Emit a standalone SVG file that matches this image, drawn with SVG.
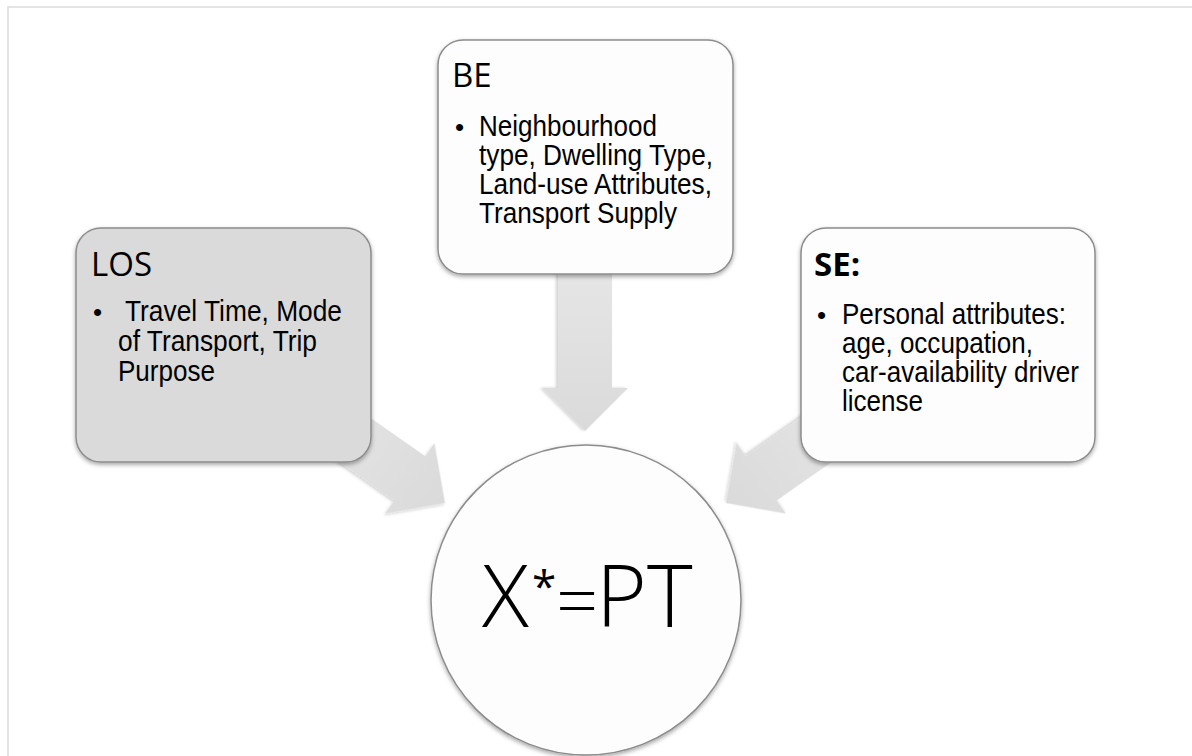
<svg xmlns="http://www.w3.org/2000/svg" width="1192" height="756" viewBox="0 0 1192 756">
<defs>
  <linearGradient id="arrowGrad" x1="0" y1="0" x2="1" y2="0">
    <stop offset="0" stop-color="#e6e6e6"/>
    <stop offset="1" stop-color="#dadada"/>
  </linearGradient>
  <filter id="shadow" x="-20%" y="-20%" width="140%" height="140%">
    <feDropShadow dx="0" dy="2" stdDeviation="2" flood-color="#000" flood-opacity="0.35"/>
  </filter>
  <filter id="ashadow" x="-20%" y="-20%" width="140%" height="140%">
    <feDropShadow dx="0" dy="2" stdDeviation="1.5" flood-color="#000" flood-opacity="0.18"/>
  </filter>
</defs>
<style>
  .frame { fill: none; stroke: #dcdcdc; stroke-width: 1.5; }
  .box { stroke: #8c8c8c; stroke-width: 1.5; filter: url(#shadow); }
  .head { font-family: "Open Sans", "Liberation Sans", sans-serif; font-size: 33px; fill: #000; }
  .bold { font-weight: 700; }
  .body { font-family: "Liberation Sans", Arial, sans-serif; font-size: 29px; fill: #000; }
  .bullet { font-family: "Liberation Sans", Arial, sans-serif; font-size: 26px; fill: #000; }
  .arrow { fill: url(#arrowGrad); filter: url(#ashadow); }
  .big { font-family: "Open Sans", "Liberation Sans", sans-serif; font-weight: 300; font-size: 87px; fill: #000; }
</style>
<rect x="0" y="0" width="1192" height="756" fill="#ffffff"/>
<path class="frame" d="M8 756 V7 H1192"/>

<g id="connectors">
  <polygon class="arrow" transform="translate(445,503) rotate(35)" points="-170,-27 -43,-27 -43,-43 0,0 -43,43 -43,27 -170,27"/>
  <polygon class="arrow" transform="translate(585,431) rotate(90)" points="-165,-27 -43,-27 -43,-43 0,0 -43,43 -43,27 -165,27"/>
  <polygon class="arrow" transform="translate(726,503) rotate(145)" points="-170,-27 -43,-27 -43,-43 0,0 -43,43 -43,27 -170,27"/>
</g>

<g id="node-los">
  <rect class="box" x="76" y="228" width="295" height="234" rx="25" fill="#dadada"/>
  <text class="head" x="91" y="276">LOS</text>
  <text class="bullet" x="93" y="321">•</text>
  <text class="body" x="125" y="321" textLength="217" lengthAdjust="spacingAndGlyphs">Travel Time, Mode</text>
  <text class="body" x="118" y="351" textLength="199" lengthAdjust="spacingAndGlyphs">of Transport, Trip</text>
  <text class="body" x="118" y="381" textLength="97" lengthAdjust="spacingAndGlyphs">Purpose</text>
</g>

<g id="node-be">
  <rect class="box" x="438" y="40" width="295" height="234" rx="25" fill="#fdfdfd"/>
  <text class="head" x="452" y="87">BE</text>
  <text class="bullet" x="455" y="136">•</text>
  <text class="body" x="479" y="136" textLength="178" lengthAdjust="spacingAndGlyphs">Neighbourhood</text>
  <text class="body" x="479" y="165" textLength="234" lengthAdjust="spacingAndGlyphs">type, Dwelling Type,</text>
  <text class="body" x="479" y="194" textLength="233" lengthAdjust="spacingAndGlyphs">Land-use Attributes,</text>
  <text class="body" x="479" y="223" textLength="198" lengthAdjust="spacingAndGlyphs">Transport Supply</text>
</g>

<g id="node-se">
  <rect class="box" x="801" y="228" width="294" height="234" rx="25" fill="#fdfdfd"/>
  <text class="head bold" x="814" y="276">SE:</text>
  <text class="bullet" x="817" y="324">•</text>
  <text class="body" x="842" y="324" textLength="224" lengthAdjust="spacingAndGlyphs">Personal attributes:</text>
  <text class="body" x="842" y="353" textLength="191" lengthAdjust="spacingAndGlyphs">age, occupation,</text>
  <text class="body" x="842" y="382" textLength="237" lengthAdjust="spacingAndGlyphs">car-availability driver</text>
  <text class="body" x="842" y="411" textLength="81" lengthAdjust="spacingAndGlyphs">license</text>
</g>

<g id="node-pt">
  <circle class="box" cx="586" cy="600" r="155" fill="#fdfdfd"/>
  <text class="big" y="627"><tspan x="482">X</tspan><tspan x="532" y="602" font-size="44" font-weight="400">*</tspan><tspan x="556" y="627" font-size="74">=</tspan><tspan x="596">PT</tspan></text>
</g>
</svg>
